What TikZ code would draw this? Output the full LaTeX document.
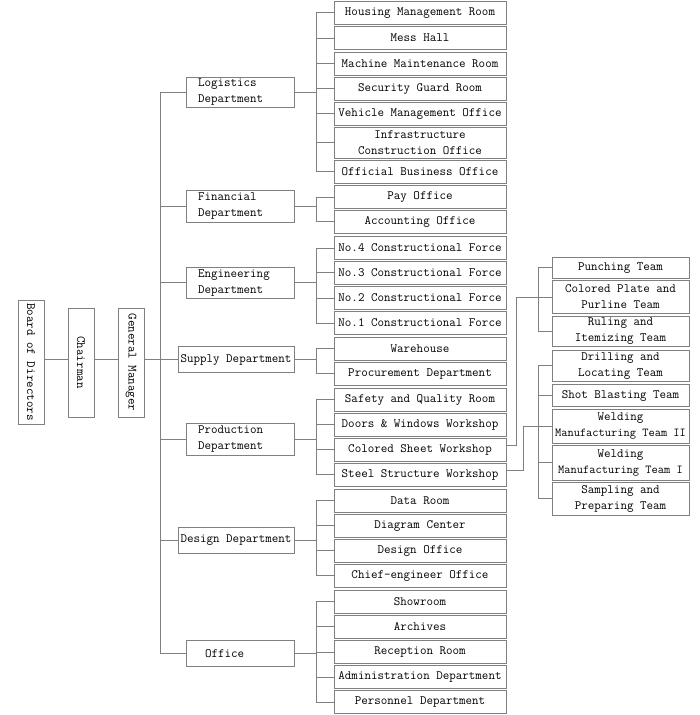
\documentclass[tikz,border=0pt]{standalone}
\usepackage{fontspec}
\definecolor{linegray}{RGB}{128,128,128}
\begin{document}
\begin{tikzpicture}[x=1pt,y=-1pt,
  every node/.style={font=\ttfamily\fontsize{12.67}{16}\selectfont, text=black},
  box/.style={draw=linegray, line width=0.9pt, inner sep=0pt, align=center, minimum height=23pt},
  leaf/.style={box, minimum width=172pt},
  team/.style={box, minimum width=137pt},
  dept/.style={box, minimum width=108pt, text width=84pt, align=left},
  vbox/.style={box, minimum width=26pt},
  conn/.style={draw=linegray, line width=0.9pt}
]
\useasboundingbox (0,0) rectangle (700,715);

% left column
\node[vbox, minimum height=124pt] (board) at (31,362) {\rotatebox{-90}{Board of Directors}};
\node[vbox, minimum height=109pt] (chair) at (81,362.5) {\rotatebox{-90}{Chairman}};
\node[vbox, minimum height=109pt] (gm) at (131,362.5) {\rotatebox{-90}{General Manager}};

% departments
\node[dept, minimum height=30pt] (logi) at (240,92.3) {Logistics\\Department};
\node[dept, minimum height=32pt] (fin) at (240,206) {Financial\\Department};
\node[dept, minimum height=31pt] (eng) at (240,282.8) {Engineering\\Department};
\node[box, minimum width=116pt, minimum height=25.6pt] (sup) at (236,359.5) {Supply Department};
\node[dept, minimum height=32pt] (prod) at (240,439.3) {Production\\Department};
\node[box, minimum width=116pt, minimum height=26pt] (des) at (236,540.3) {Design Department};
\node[dept, minimum height=26pt, text width=70pt] (off) at (240,653.3) {Office};

% leaves
\node[leaf] (l1) at (420,12.8) {Housing Management Room};
\node[leaf] (l2) at (420,38) {Mess Hall};
\node[leaf] (l3) at (420,63.5) {Machine Maintenance Room};
\node[leaf] (l4) at (420,88.7) {Security Guard Room};
\node[leaf] (l5) at (420,113.8) {Vehicle Management Office};
\node[leaf, minimum height=31pt] (l6) at (420,142.8) {Infrastructure\\Construction Office};
\node[leaf] (l7) at (420,171.7) {Official Business Office};
\node[leaf] (f1) at (420,197) {Pay Office};
\node[leaf] (f2) at (420,221.8) {Accounting Office};
\node[leaf] (e1) at (420,248) {No.4 Constructional Force};
\node[leaf] (e2) at (420,272.9) {No.3 Constructional Force};
\node[leaf] (e3) at (420,298) {No.2 Constructional Force};
\node[leaf] (e4) at (420,323) {No.1 Constructional Force};
\node[leaf] (s1) at (420,348.7) {Warehouse};
\node[leaf] (s2) at (420,373.8) {Procurement Department};
\node[leaf] (p1) at (420,399.7) {Safety and Quality Room};
\node[leaf] (p2) at (420,424.7) {Doors \& Windows Workshop};
\node[leaf] (p3) at (420,449.9) {Colored Sheet Workshop};
\node[leaf] (p4) at (420,474.7) {Steel Structure Workshop};
\node[leaf] (d1) at (420,500.8) {Data Room};
\node[leaf] (d2) at (420,525.8) {Diagram Center};
\node[leaf] (d3) at (420,550.8) {Design Office};
\node[leaf] (d4) at (420,575.8) {Chief-engineer Office};
\node[leaf] (o1) at (420,601.7) {Showroom};
\node[leaf] (o2) at (420,626.8) {Archives};
\node[leaf] (o3) at (420,652) {Reception Room};
\node[leaf] (o4) at (420,677.2) {Administration Department};
\node[leaf] (o5) at (420,702) {Personnel Department};

% teams
\node[team, minimum height=21pt] (t1) at (620.5,267.8) {Punching Team};
\node[team, minimum height=32.6pt] (t2) at (620.5,297) {Colored Plate and\\Purline Team};
\node[team, minimum height=30.7pt] (t3) at (620.5,331.3) {Ruling and\\Itemizing Team};
\node[team, minimum height=31.7pt] (t4) at (620.5,365.8) {Drilling and\\Locating Team};
\node[team, minimum height=22.4pt] (t5) at (620.5,395.5) {Shot Blasting Team};
\node[team, minimum height=34pt] (t6) at (620.5,426.3) {Welding\\{\fontsize{12.1}{16}\selectfont Manufacturing Team II}};
\node[team, minimum height=34.7pt] (t7) at (620.5,462.7) {Welding\\{\fontsize{12.1}{16}\selectfont Manufacturing Team I}};
\node[team, minimum height=32.3pt] (t8) at (620.5,498.8) {Sampling and\\Preparing Team};

% helper x positions
\coordinate (tr) at (160,0);
\coordinate (br) at (316,0);
\coordinate (ca) at (516,0);
\coordinate (cc) at (523,0);
\coordinate (cb) at (538,0);

% left chain
\draw[conn] (board.east |- sup.west) -- (chair.west |- sup.west);
\draw[conn] (chair.east |- sup.west) -- (gm.west |- sup.west);
\draw[conn] (gm.east |- sup.west) -- (sup.west);

% trunk
\draw[conn] (tr |- logi.west) -- (tr |- off.west);
\foreach \d in {logi,fin,eng,prod,des,off}
  \draw[conn] (tr |- \d.west) -- (\d.west);

% branches
\draw[conn] (logi.east) -- (br |- logi.east);
\draw[conn] (br |- l1.west) -- (br |- l7.west);
\foreach \n in {l1,l2,l3,l4,l5,l6,l7}
  \draw[conn] (br |- \n.west) -- (\n.west);

\draw[conn] (fin.east) -- (br |- fin.east);
\draw[conn] (br |- f1.west) -- (br |- f2.west);
\foreach \n in {f1,f2}
  \draw[conn] (br |- \n.west) -- (\n.west);

\draw[conn] (eng.east) -- (br |- eng.east);
\draw[conn] (br |- e1.west) -- (br |- e4.west);
\foreach \n in {e1,e2,e3,e4}
  \draw[conn] (br |- \n.west) -- (\n.west);

\draw[conn] (sup.east) -- (br |- sup.east);
\draw[conn] (br |- s1.west) -- (br |- s2.west);
\foreach \n in {s1,s2}
  \draw[conn] (br |- \n.west) -- (\n.west);

\draw[conn] (prod.east) -- (br |- prod.east);
\draw[conn] (br |- p1.west) -- (br |- p4.west);
\foreach \n in {p1,p2,p3,p4}
  \draw[conn] (br |- \n.west) -- (\n.west);

\draw[conn] (des.east) -- (br |- des.east);
\draw[conn] (br |- d1.west) -- (br |- d4.west);
\foreach \n in {d1,d2,d3,d4}
  \draw[conn] (br |- \n.west) -- (\n.west);

\draw[conn] (off.east) -- (br |- off.east);
\draw[conn] (br |- o1.west) -- (br |- o5.west);
\foreach \n in {o1,o2,o3,o4,o5}
  \draw[conn] (br |- \n.west) -- (\n.west);

% team connectors
\draw[conn] ([yshift=4pt]p3.east) -| (ca |- t2.west) -- (t2.west);
\draw[conn] (cb |- t1.west) -- (cb |- t3.west);
\foreach \n in {t1,t3}
  \draw[conn] (cb |- \n.west) -- (\n.west);

\draw[conn] ([yshift=4pt]p4.east) -| (cc |- t6.west) -- (cb |- t6.west);
\draw[conn] (cb |- t4.west) -- (cb |- t8.west);
\foreach \n in {t4,t5,t6,t7,t8}
  \draw[conn] (cb |- \n.west) -- (\n.west);
\end{tikzpicture}
\end{document}
